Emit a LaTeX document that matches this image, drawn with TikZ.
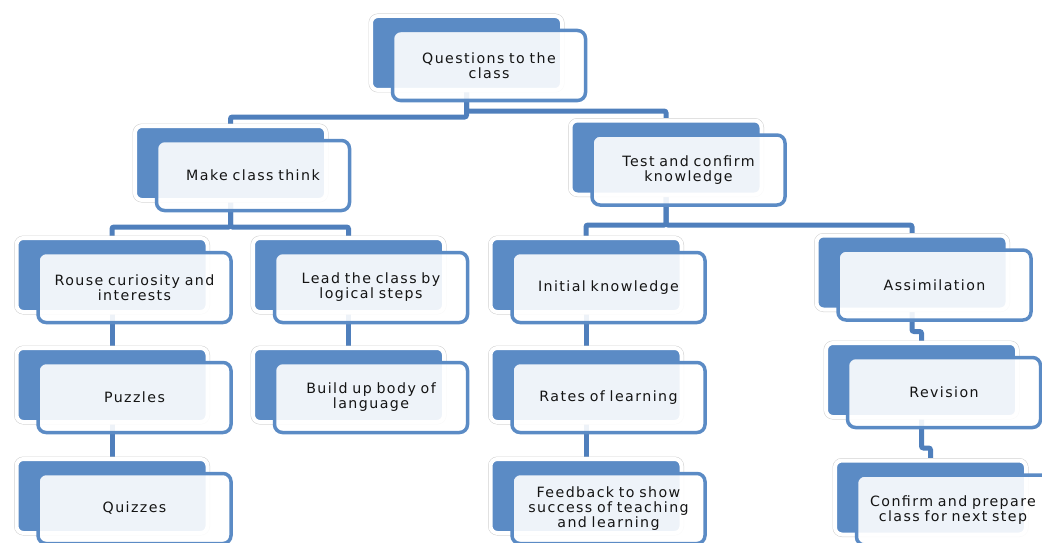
\documentclass[tikz,border=0pt]{standalone}
\usepackage{fontspec}
\newfontfamily\boxfont[LetterSpace=10,WordSpace=0.8]{DejaVu Sans}
\usetikzlibrary{backgrounds}
\definecolor{boxblue}{RGB}{91,139,197}
\definecolor{linkblue}{RGB}{79,127,188}
\definecolor{txt}{RGB}{20,20,20}
\begin{document}
\begin{tikzpicture}[x=1pt,y=-1pt,
  backbox/.style={rectangle, rounded corners=7pt, minimum width=191pt, minimum height=74pt,
    fill=boxblue, draw=white, line width=4pt, preaction={draw=black!18, line width=5pt}, inner sep=0pt},
  frontbox/.style={rectangle, rounded corners=8pt, minimum width=193pt, minimum height=70pt,
    draw=boxblue, line width=3.5pt, fill=white, fill opacity=0.9, text opacity=1, draw opacity=1,
    inner sep=0pt, font=\boxfont\fontsize{14.2}{15}\selectfont, text=txt, align=center},
  conn/.style={draw=linkblue, line width=5pt, rounded corners=2pt}]
\useasboundingbox (0,0) rectangle (1042,543);
\newcommand{\elem}[4]{%
  \node[backbox] (#1b) at (#2,#3) {};
  \node[frontbox] (#1) at ([shift={(22.5,12.5)}]#1b.center) {#4};}
\elem{q}{466.5}{53}{Questions to the\\class}
\elem{m}{230.5}{163}{Make class think}
\elem{t}{666}{157.5}{Test and confirm\\knowledge}
\elem{r}{112}{275}{Rouse curiosity and\\interests}
\elem{l}{348.5}{275}{Lead the class by\\logical steps}
\elem{i}{586}{275}{Initial knowledge}
\elem{a}{912}{272.5}{Assimilation}
\elem{p}{112}{385}{Puzzles}
\elem{bu}{348.5}{385}{Build up body of\\language}
\elem{ra}{586}{385}{Rates of learning}
\elem{rv}{921.5}{380}{Revision}
\elem{qz}{112}{496}{Quizzes}
\elem{f}{586}{496}{Feedback to show\\success of teaching\\and learning}
\elem{c}{930.5}{497.5}{Confirm and prepare\\class for next step}
\begin{scope}[on background layer]
\draw[conn] (qb.south) -- ++(0,25) -| (mb.north);
\draw[conn] (qb.south) -- ++(0,19) -| (tb.north);
\draw[conn] (mb.south) -- ++(0,25) -| (rb.north);
\draw[conn] (mb.south) -- ++(0,25) -| (lb.north);
\draw[conn] (tb.south) -- ++(0,28.5) -| (ib.north);
\draw[conn] (tb.south) -- ++(0,28.5) -| (ab.north);
\draw[conn] (rb.south) -- (pb.north);
\draw[conn] (pb.south) -- (qzb.north);
\draw[conn] (lb.south) -- (bub.north);
\draw[conn] (ib.south) -- (rab.north);
\draw[conn] (rab.south) -- (fb.north);
\draw[conn] (ab.south) -- ++(0,20) -| (rvb.north);
\draw[conn] (rvb.south) -- ++(0,29) -| (cb.north);
\end{scope}
\end{tikzpicture}
\end{document}
